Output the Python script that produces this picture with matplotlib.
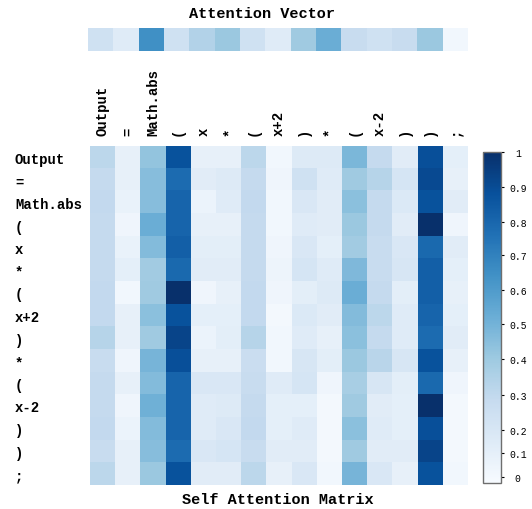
import numpy as np
import matplotlib
matplotlib.use("Agg")
import matplotlib.pyplot as plt

plt.rcParams['font.family'] = ['Liberation Mono', 'DejaVu Sans Mono']

tokens = ['Output', '=', 'Math.abs', '(', 'x', '*', '(', 'x+2', ')', '*', '(',
          'x-2', ')', ')', ';']

# attention weight of each token
attn_vector = [0.20, 0.12, 0.63, 0.20, 0.31, 0.38, 0.20, 0.12, 0.37, 0.50,
               0.24, 0.20, 0.24, 0.38, 0.03]

# token-to-token self attention (row = query, column = key)
row_output   = [0.28, 0.08, 0.40, 0.87, 0.08, 0.08, 0.28, 0.03, 0.13, 0.13, 0.46, 0.25, 0.11, 0.88, 0.09]
row_eq       = [0.25, 0.08, 0.43, 0.77, 0.11, 0.13, 0.25, 0.04, 0.20, 0.12, 0.37, 0.30, 0.17, 0.90, 0.08]
row_mathabs  = [0.26, 0.07, 0.43, 0.80, 0.06, 0.12, 0.26, 0.03, 0.15, 0.11, 0.42, 0.25, 0.14, 0.87, 0.11]
row_lpar1    = [0.25, 0.04, 0.50, 0.80, 0.08, 0.08, 0.25, 0.03, 0.12, 0.11, 0.38, 0.25, 0.11, 1.00, 0.04]
row_x        = [0.25, 0.07, 0.44, 0.82, 0.10, 0.10, 0.25, 0.04, 0.15, 0.09, 0.36, 0.24, 0.15, 0.78, 0.11]
row_star1    = [0.25, 0.09, 0.36, 0.78, 0.11, 0.11, 0.25, 0.05, 0.17, 0.12, 0.45, 0.24, 0.16, 0.82, 0.09]
row_lpar2    = [0.26, 0.03, 0.37, 1.00, 0.04, 0.08, 0.26, 0.04, 0.10, 0.13, 0.50, 0.25, 0.10, 0.82, 0.08]
row_xplus2   = [0.26, 0.08, 0.42, 0.87, 0.09, 0.09, 0.26, 0.02, 0.14, 0.11, 0.44, 0.28, 0.12, 0.80, 0.09]
row_rpar1    = [0.30, 0.08, 0.37, 0.92, 0.06, 0.10, 0.30, 0.03, 0.12, 0.08, 0.42, 0.25, 0.12, 0.77, 0.11]
row_star2    = [0.24, 0.04, 0.47, 0.88, 0.08, 0.08, 0.23, 0.03, 0.16, 0.10, 0.38, 0.29, 0.16, 0.87, 0.08]
row_lpar3    = [0.25, 0.08, 0.44, 0.80, 0.15, 0.15, 0.24, 0.12, 0.17, 0.04, 0.34, 0.16, 0.10, 0.78, 0.04]
row_xminus2  = [0.25, 0.04, 0.49, 0.80, 0.12, 0.13, 0.25, 0.09, 0.09, 0.02, 0.37, 0.11, 0.09, 1.00, 0.02]
row_rpar2    = [0.26, 0.06, 0.44, 0.80, 0.12, 0.15, 0.26, 0.09, 0.12, 0.02, 0.42, 0.12, 0.09, 0.88, 0.02]
row_rpar3    = [0.24, 0.08, 0.43, 0.77, 0.15, 0.17, 0.24, 0.11, 0.11, 0.02, 0.37, 0.11, 0.11, 0.92, 0.02]
row_semi     = [0.28, 0.08, 0.38, 0.87, 0.11, 0.11, 0.28, 0.08, 0.15, 0.03, 0.47, 0.15, 0.08, 0.87, 0.03]

self_attn = np.array([row_output, row_eq, row_mathabs, row_lpar1, row_x,
                      row_star1, row_lpar2, row_xplus2, row_rpar1, row_star2,
                      row_lpar3, row_xminus2, row_rpar2, row_rpar3, row_semi])

cbar_labels = ['0', '0.1', '0.2', '0.3', '0.4', '0.5', '0.6', '0.7', '0.8', '0.9', '1']
cbar_ticks = [0.018, 0.09, 0.16, 0.266, 0.375, 0.48, 0.583, 0.689, 0.79, 0.894, 1.0]

fig = plt.figure(figsize=(5.32, 5.10), dpi=100)

# attention vector strip
ax_vec = fig.add_axes([0.165, 0.898, 0.714, 0.045])
ax_vec.imshow(np.array([attn_vector]), cmap='Blues', vmin=0, vmax=1,
              aspect='auto', interpolation='nearest')
ax_vec.axis('off')
fig.text(0.4925, 1 - 14 / 510, 'Attention Vector', ha='center', va='center',
         fontsize=11, fontweight='bold')

# self attention matrix
ax = fig.add_axes([0.169, 0.047, 0.7105, 0.665])
im = ax.imshow(self_attn, cmap='Blues', vmin=0, vmax=1, aspect='auto',
               interpolation='nearest')
for s in ax.spines.values():
    s.set_visible(False)

n = len(tokens)
ax.set_xticks(np.arange(n))
ax.set_xticklabels(tokens, rotation=90, fontsize=10, fontweight='bold')
ax.tick_params(axis='x', top=True, labeltop=True, bottom=False,
               labelbottom=False, length=0, pad=8)
ax.set_yticks(np.arange(n))
ax.set_yticklabels(tokens, fontsize=10, fontweight='bold', ha='left')
ax.tick_params(axis='y', length=0, pad=54)

fig.text(0.523, 1 - 500 / 510, 'Self Attention Matrix', ha='center',
         va='center', fontsize=11, fontweight='bold')

# colour bar
cax = fig.add_axes([0.908, 0.051, 0.034, 0.649])
cb = fig.colorbar(im, cax=cax)
cb.set_ticks(cbar_ticks)
cb.set_ticklabels(cbar_labels)
cb.outline.set_edgecolor('#6e6e6e')
cb.outline.set_linewidth(1)
cax.tick_params(length=2, width=0.8, pad=10, labelsize=7)
for lbl in cax.get_yticklabels():
    lbl.set_ha('center')

fig.savefig('out.png', dpi=100)
